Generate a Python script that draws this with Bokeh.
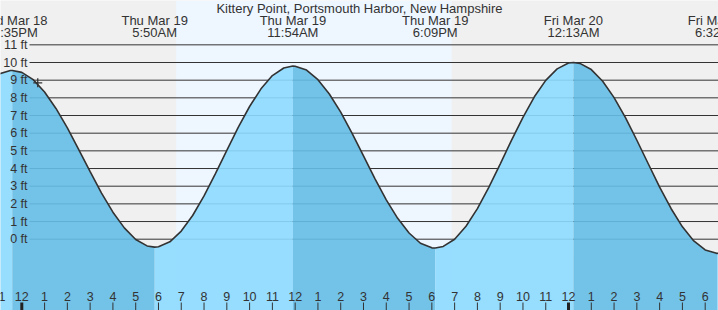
from bokeh.plotting import figure
from bokeh.models import Range1d
from bokeh.embed import file_html
from bokeh.resources import INLINE
from bokeh.core.properties import value

TITLE = "Kittery Point, Portsmouth Harbor, New Hampshire"

# time in hours from midnight (Thu Mar 19), tide height in ft
tide_t = [-1.0, -0.5, -0.417, 0.0, 0.5, 1.0, 1.5, 2.0, 2.5, 3.0, 3.5, 4.0, 4.5, 5.0, 5.5,
          5.833, 6.0, 6.5, 7.0, 7.5, 8.0, 8.5, 9.0, 9.5, 10.0, 10.5, 11.0, 11.5,
          11.9, 12.0, 12.5, 13.0, 13.5, 14.0, 14.5, 15.0, 15.5, 16.0, 16.5, 17.0, 17.5, 18.0,
          18.15, 18.5, 19.0, 19.5, 20.0, 20.5, 21.0, 21.5, 22.0, 22.5, 23.0, 23.5, 24.0,
          24.217, 24.5, 25.0, 25.5, 26.0, 26.5, 27.0, 27.5, 28.0, 28.5, 29.0, 29.5, 30.0, 30.5,
          30.533, 31.0]
tide_h = [9.35, 9.55, 9.55, 9.44, 9.03, 8.33, 7.40, 6.30, 5.07, 3.82, 2.61, 1.53, 0.64, -0.02, -0.38,
          -0.45, -0.43, -0.15, 0.46, 1.34, 2.45, 3.71, 5.03, 6.33, 7.51, 8.51, 9.26, 9.69,
          9.80, 9.79, 9.57, 9.03, 8.22, 7.19, 5.99, 4.71, 3.43, 2.23, 1.18, 0.35, -0.23, -0.49,
          -0.50, -0.41, 0.00, 0.73, 1.73, 2.93, 4.25, 5.61, 6.90, 8.06, 8.99, 9.64, 9.97,
          10.00, 9.95, 9.60, 8.94, 8.01, 6.88, 5.60, 4.27, 2.95, 1.74, 0.70, -0.10, -0.61, -0.80,
          -0.80, -0.75]

event_t = [-0.417, 5.833, 11.9, 18.15, 24.217, 30.533]
event_h = [9.55, -0.45, 9.80, -0.50, 10.00, -0.80]
event_kind = ["H", "L", "H", "L", "H", "L"]
event_day = ["Wed Mar 18", "Thu Mar 19", "Thu Mar 19", "Thu Mar 19", "Fri Mar 20", "Fri Mar 20"]
event_time = ["11:35PM", "5:50AM", "11:54AM", "6:09PM", "12:13AM", "6:32AM"]

sunrise_t = [6.78]
sunset_t = [18.87]

now_t = [0.70]
now_h = [8.85]

ft_levels = [0, 1, 2, 3, 4, 5, 6, 7, 8, 9, 10, 11]
ft_labels = ["0 ft", "1 ft", "2 ft", "3 ft", "4 ft", "5 ft", "6 ft", "7 ft", "8 ft", "9 ft", "10 ft", "11 ft"]

hour_ticks = list(range(-1, 31))
hour_labels = ["11", "12", "1", "2", "3", "4", "5", "6", "7", "8", "9", "10", "11",
               "12", "1", "2", "3", "4", "5", "6", "7", "8", "9", "10", "11",
               "12", "1", "2", "3", "4", "5", "6"]
midnight_ticks = [0, 24]

W, H = 718, 310
X0, X1 = -0.935, 30.584
Y0, Y1 = -4.035, 13.509

FONT = value("Liberation Sans")
TXT = "#333333"
NIGHT = "#f0f0f0"
DAY = "#eef6ff"
LIGHT = "#8cdaff"
DARK = "#65bce5"

p = figure(width=W, height=H, x_range=Range1d(X0, X1), y_range=Range1d(Y0, Y1),
           output_backend="svg", toolbar_location=None, min_border=0,
           x_axis_location=None, y_axis_location=None)
p.extra_x_ranges = {"px": Range1d(0, W)}
p.extra_y_ranges = {"py": Range1d(H, 0)}
p.xgrid.visible = False
p.ygrid.visible = False
p.outline_line_color = None
p.background_fill_color = NIGHT
p.border_fill_color = NIGHT

# daylight
p.quad(left=sunrise_t, right=sunset_t, bottom=Y0, top=Y1, fill_color=DAY, line_color=None)

# horizontal ft lines
p.segment(x0=[29] * len(ft_levels), x1=[W] * len(ft_levels), y0=ft_levels, y1=ft_levels,
          x_range_name="px", line_color="#333333", line_width=1)

# filled tide areas: rising light, falling dark
bounds = [X0 - 1] + event_t + [X1 + 1]
kinds = ["L"] + event_kind
for i in range(len(bounds) - 1):
    a, b = bounds[i], bounds[i + 1]
    xs = [t for t in tide_t if a <= t <= b]
    ys = [h for t, h in zip(tide_t, tide_h) if a <= t <= b]
    if len(xs) < 2:
        continue
    col = DARK if kinds[i] == "H" else LIGHT
    p.varea(x=xs, y1=Y0, y2=ys, fill_color=col, fill_alpha=0.9)

p.line(tide_t, tide_h, line_color="#333333", line_width=1.6)

# current marker
p.scatter(now_t, now_h, marker="cross", size=9, line_color="#333333", line_width=1.3)

# ft labels
p.text(x=[27] * len(ft_levels), y=ft_levels, text=ft_labels, x_range_name="px",
       text_font=FONT, text_font_size="12.5px", text_color=TXT,
       text_align="right", text_baseline="middle")

# title & event labels
n_ev = len(event_t)
p.text(x=[W / 2], y=[7.5], text=[TITLE], x_range_name="px", y_range_name="py",
       text_font=FONT, text_font_size="13px", text_color=TXT,
       text_align="center", text_baseline="middle")
p.text(x=event_t, y=[20] * n_ev, text=event_day, y_range_name="py",
       text_font=FONT, text_font_size="13px", text_color=TXT,
       text_align="center", text_baseline="middle")
p.text(x=event_t, y=[32] * n_ev, text=event_time, y_range_name="py",
       text_font=FONT, text_font_size="13px", text_color=TXT,
       text_align="center", text_baseline="middle")

# hour ticks
thin = [t for t in hour_ticks if t not in midnight_ticks]
p.segment(x0=thin, x1=thin, y0=[302] * len(thin), y1=[H] * len(thin), y_range_name="py",
          line_color="#333333", line_width=1)
p.segment(x0=midnight_ticks, x1=midnight_ticks, y0=[302] * 2, y1=[H] * 2, y_range_name="py",
          line_color="#222222", line_width=3)
p.text(x=hour_ticks, y=[296] * len(hour_ticks), text=hour_labels, y_range_name="py",
       text_font=FONT, text_font_size="12.5px", text_color=TXT,
       text_align="center", text_baseline="middle")

open("out.html", "w").write(file_html(p, INLINE))
